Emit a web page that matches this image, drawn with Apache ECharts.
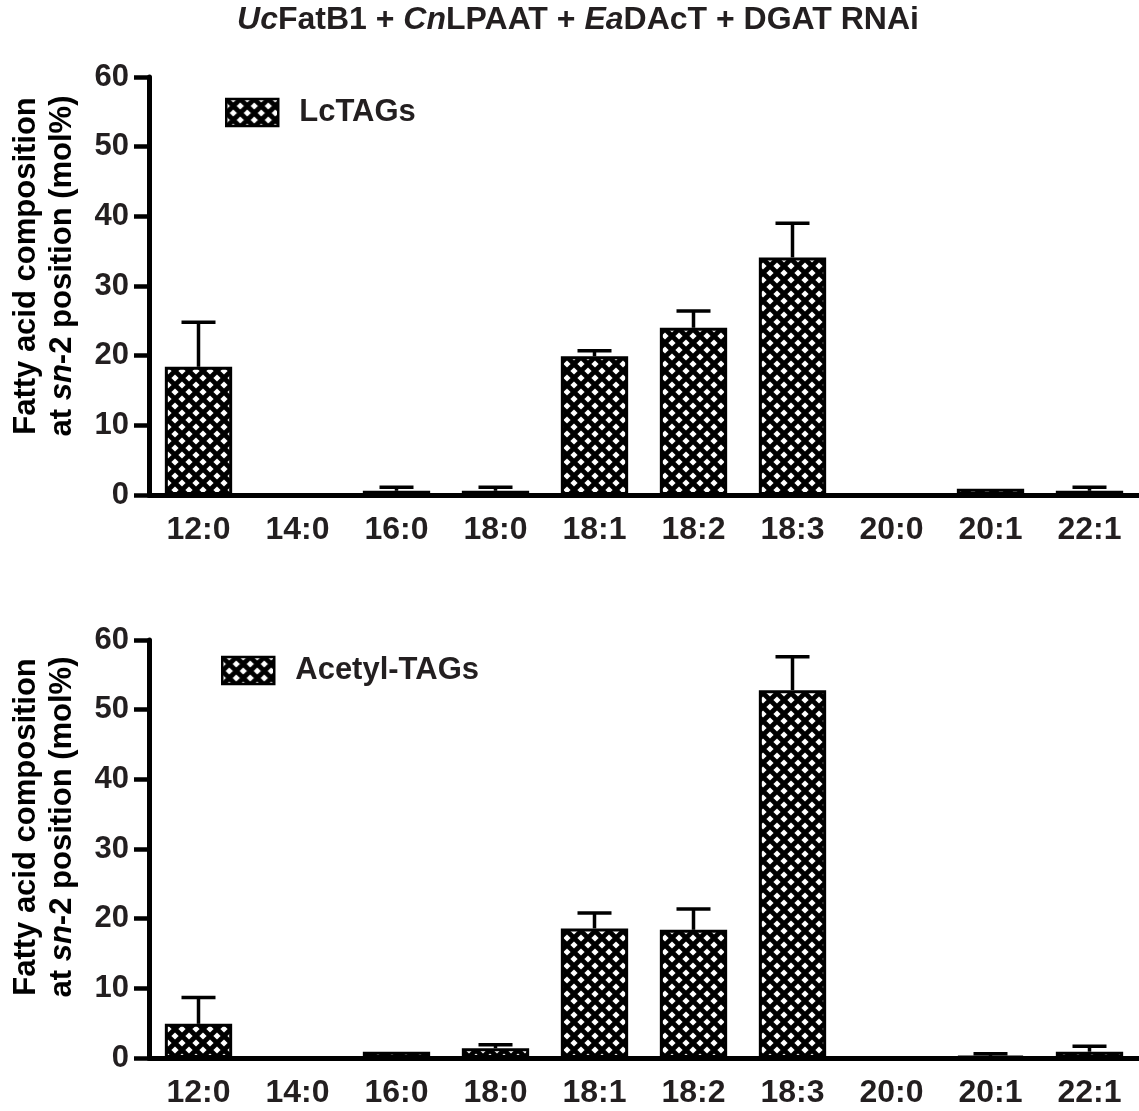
<!DOCTYPE html>
<html>
<head>
<meta charset="utf-8">
<title>sn-2 fatty acid composition</title>
<script src="https://cdn.jsdelivr.net/npm/echarts@6/dist/echarts.min.js"></script>
<style>
  html, body { margin: 0; padding: 0; background: #fff; }
  #chart { width: 1139px; height: 1111px; }
</style>
</head>
<body>
<div id="chart"></div>
<script>
// Fatty acid species on the x axis
const categories = ['12:0', '14:0', '16:0', '18:0', '18:1', '18:2', '18:3', '20:0', '20:1', '22:1'];

// LcTAGs: mean mol% at sn-2 and upper error (SD)
const lcTagMean = [18.4, 0, 0.6, 0.6, 19.9, 24.0, 34.1, 0, 0.9, 0.6];
const lcTagErr  = [6.4, 0, 0.5, 0.5, 0.8, 2.4, 4.9, 0, 0, 0.5];

// Acetyl-TAGs: mean mol% at sn-2 and upper error (SD)
const acTagMean = [4.9, 0, 0.9, 1.4, 18.6, 18.4, 52.8, 0, 0.3, 0.9];
const acTagErr  = [3.8, 0, 0, 0.5, 2.2, 3.0, 4.8, 0, 0.3, 0.8];

// y axis range
const yMin = 0, yMax = 60, yStep = 10;

const INK = '#231f20';
const FONT = '"Liberation Sans", Arial, Helvetica, sans-serif';

// black cross-hatch with white diamonds, tiled over each bar
function crossHatch() {
  const s = 14;
  const c = document.createElement('canvas');
  c.width = s; c.height = s;
  const g = c.getContext('2d');
  g.fillStyle = '#000';
  g.fillRect(0, 0, s, s);
  g.fillStyle = '#fff';
  const h = 3.6;
  [[7, 0], [0, 7], [14, 7], [7, 14]].forEach(([x, y]) => {
    g.beginPath();
    g.moveTo(x, y - h); g.lineTo(x + h, y); g.lineTo(x, y + h); g.lineTo(x - h, y);
    g.closePath();
    g.fill();
  });
  return c;
}
const hatch = { image: crossHatch(), repeat: 'repeat' };

const panels = [
  { top: 77, name: 'LcTAGs', mean: lcTagMean, err: lcTagErr, legendLeft: 225, legendTop: 97, nameY: 266 },
  { top: 640, name: 'Acetyl-TAGs', mean: acTagMean, err: acTagErr, legendLeft: 221, legendTop: 655, nameY: 827 }
];
const PANEL_H = 418;

function errorBars(params, api) {
  const x = api.value(0), m = api.value(1), e = api.value(2);
  if (!(e > 0)) return;
  const p0 = api.coord([x, m]);
  const p1 = api.coord([x, m + e]);
  const half = 17;
  const style = { stroke: '#000', lineWidth: 3.5 };
  return {
    type: 'group',
    children: [
      { type: 'line', shape: { x1: p0[0], y1: p0[1], x2: p1[0], y2: p1[1] }, style },
      { type: 'line', shape: { x1: p1[0] - half, y1: p1[1], x2: p1[0] + half, y2: p1[1] }, style }
    ]
  };
}

const option = {
  backgroundColor: '#fff',
  animation: false,
  title: {
    text: '{i|Uc}{b|FatB1 + }{i|Cn}{b|LPAAT + }{i|Ea}{b|DAcT + DGAT RNAi}',
    left: 578,
    top: 4,
    textAlign: 'center',
    padding: 0,
    textStyle: {
      rich: {
        b: { fontFamily: FONT, fontWeight: 'bold', fontSize: 32, color: INK },
        i: { fontFamily: FONT, fontWeight: 'bold', fontStyle: 'italic', fontSize: 32, color: INK }
      }
    }
  },
  legend: panels.map(p => ({
    data: [p.name],
    left: p.legendLeft,
    top: p.legendTop,
    padding: 0,
    itemWidth: 52,
    itemHeight: 27,
    icon: 'rect',
    selectedMode: false,
    itemStyle: { borderColor: '#000', borderWidth: 2.5 },
    textStyle: {
      fontFamily: FONT, fontWeight: 'bold', fontSize: 31, color: INK,
      padding: [0, 0, 0, 16]
    }
  })),
  grid: panels.map(p => ({ left: 149, top: p.top, width: 996, height: PANEL_H })),
  xAxis: panels.map((p, k) => ({
    type: 'category',
    gridIndex: k,
    data: categories,
    axisLine: { lineStyle: { color: '#000', width: 5 } },
    axisTick: { alignWithLabel: true, length: 13, lineStyle: { color: '#000', width: 4.5 } },
    axisLabel: { margin: 19, fontFamily: FONT, fontWeight: 'bold', fontSize: 32, color: INK, interval: 0 }
  })),
  yAxis: panels.map((p, k) => ({
    type: 'value',
    gridIndex: k,
    min: yMin, max: yMax, interval: yStep,
    splitLine: { show: false },
    axisLine: { show: true, lineStyle: { color: '#000', width: 5 } },
    axisTick: { show: true, length: 15, lineStyle: { color: '#000', width: 4.5 } },
    axisLabel: { margin: 20, fontFamily: FONT, fontWeight: 'bold', fontSize: 31, color: INK }
  })),
  series: panels.flatMap((p, k) => [
    {
      name: p.name,
      type: 'bar',
      xAxisIndex: k, yAxisIndex: k,
      barWidth: '68%',
      data: p.mean,
      itemStyle: { color: hatch, borderColor: '#000', borderWidth: 3 },
      z: 2
    },
    {
      type: 'custom',
      xAxisIndex: k, yAxisIndex: k,
      renderItem: errorBars,
      data: p.mean.map((m, i) => [i, m, p.err[i]]),
      z: 3,
      silent: true
    }
  ]),
  graphic: panels.map(p => ({
    type: 'text',
    x: 44,
    y: p.nameY,
    rotation: Math.PI / 2,
    style: {
      text: '{b|Fatty acid composition}\n{b|at }{i|sn}{b|-2 position (mol%)}',
      align: 'center',
      verticalAlign: 'middle',
      rich: {
        b: { fontFamily: FONT, fontWeight: 'bold', fontSize: 31, color: INK, lineHeight: 36, align: 'center' },
        i: { fontFamily: FONT, fontWeight: 'bold', fontStyle: 'italic', fontSize: 31, color: INK, lineHeight: 36, align: 'center' }
      }
    }
  }))
};

const chart = echarts.init(document.getElementById('chart'), null, { renderer: 'canvas' });
chart.setOption(option);
</script>
</body>
</html>
